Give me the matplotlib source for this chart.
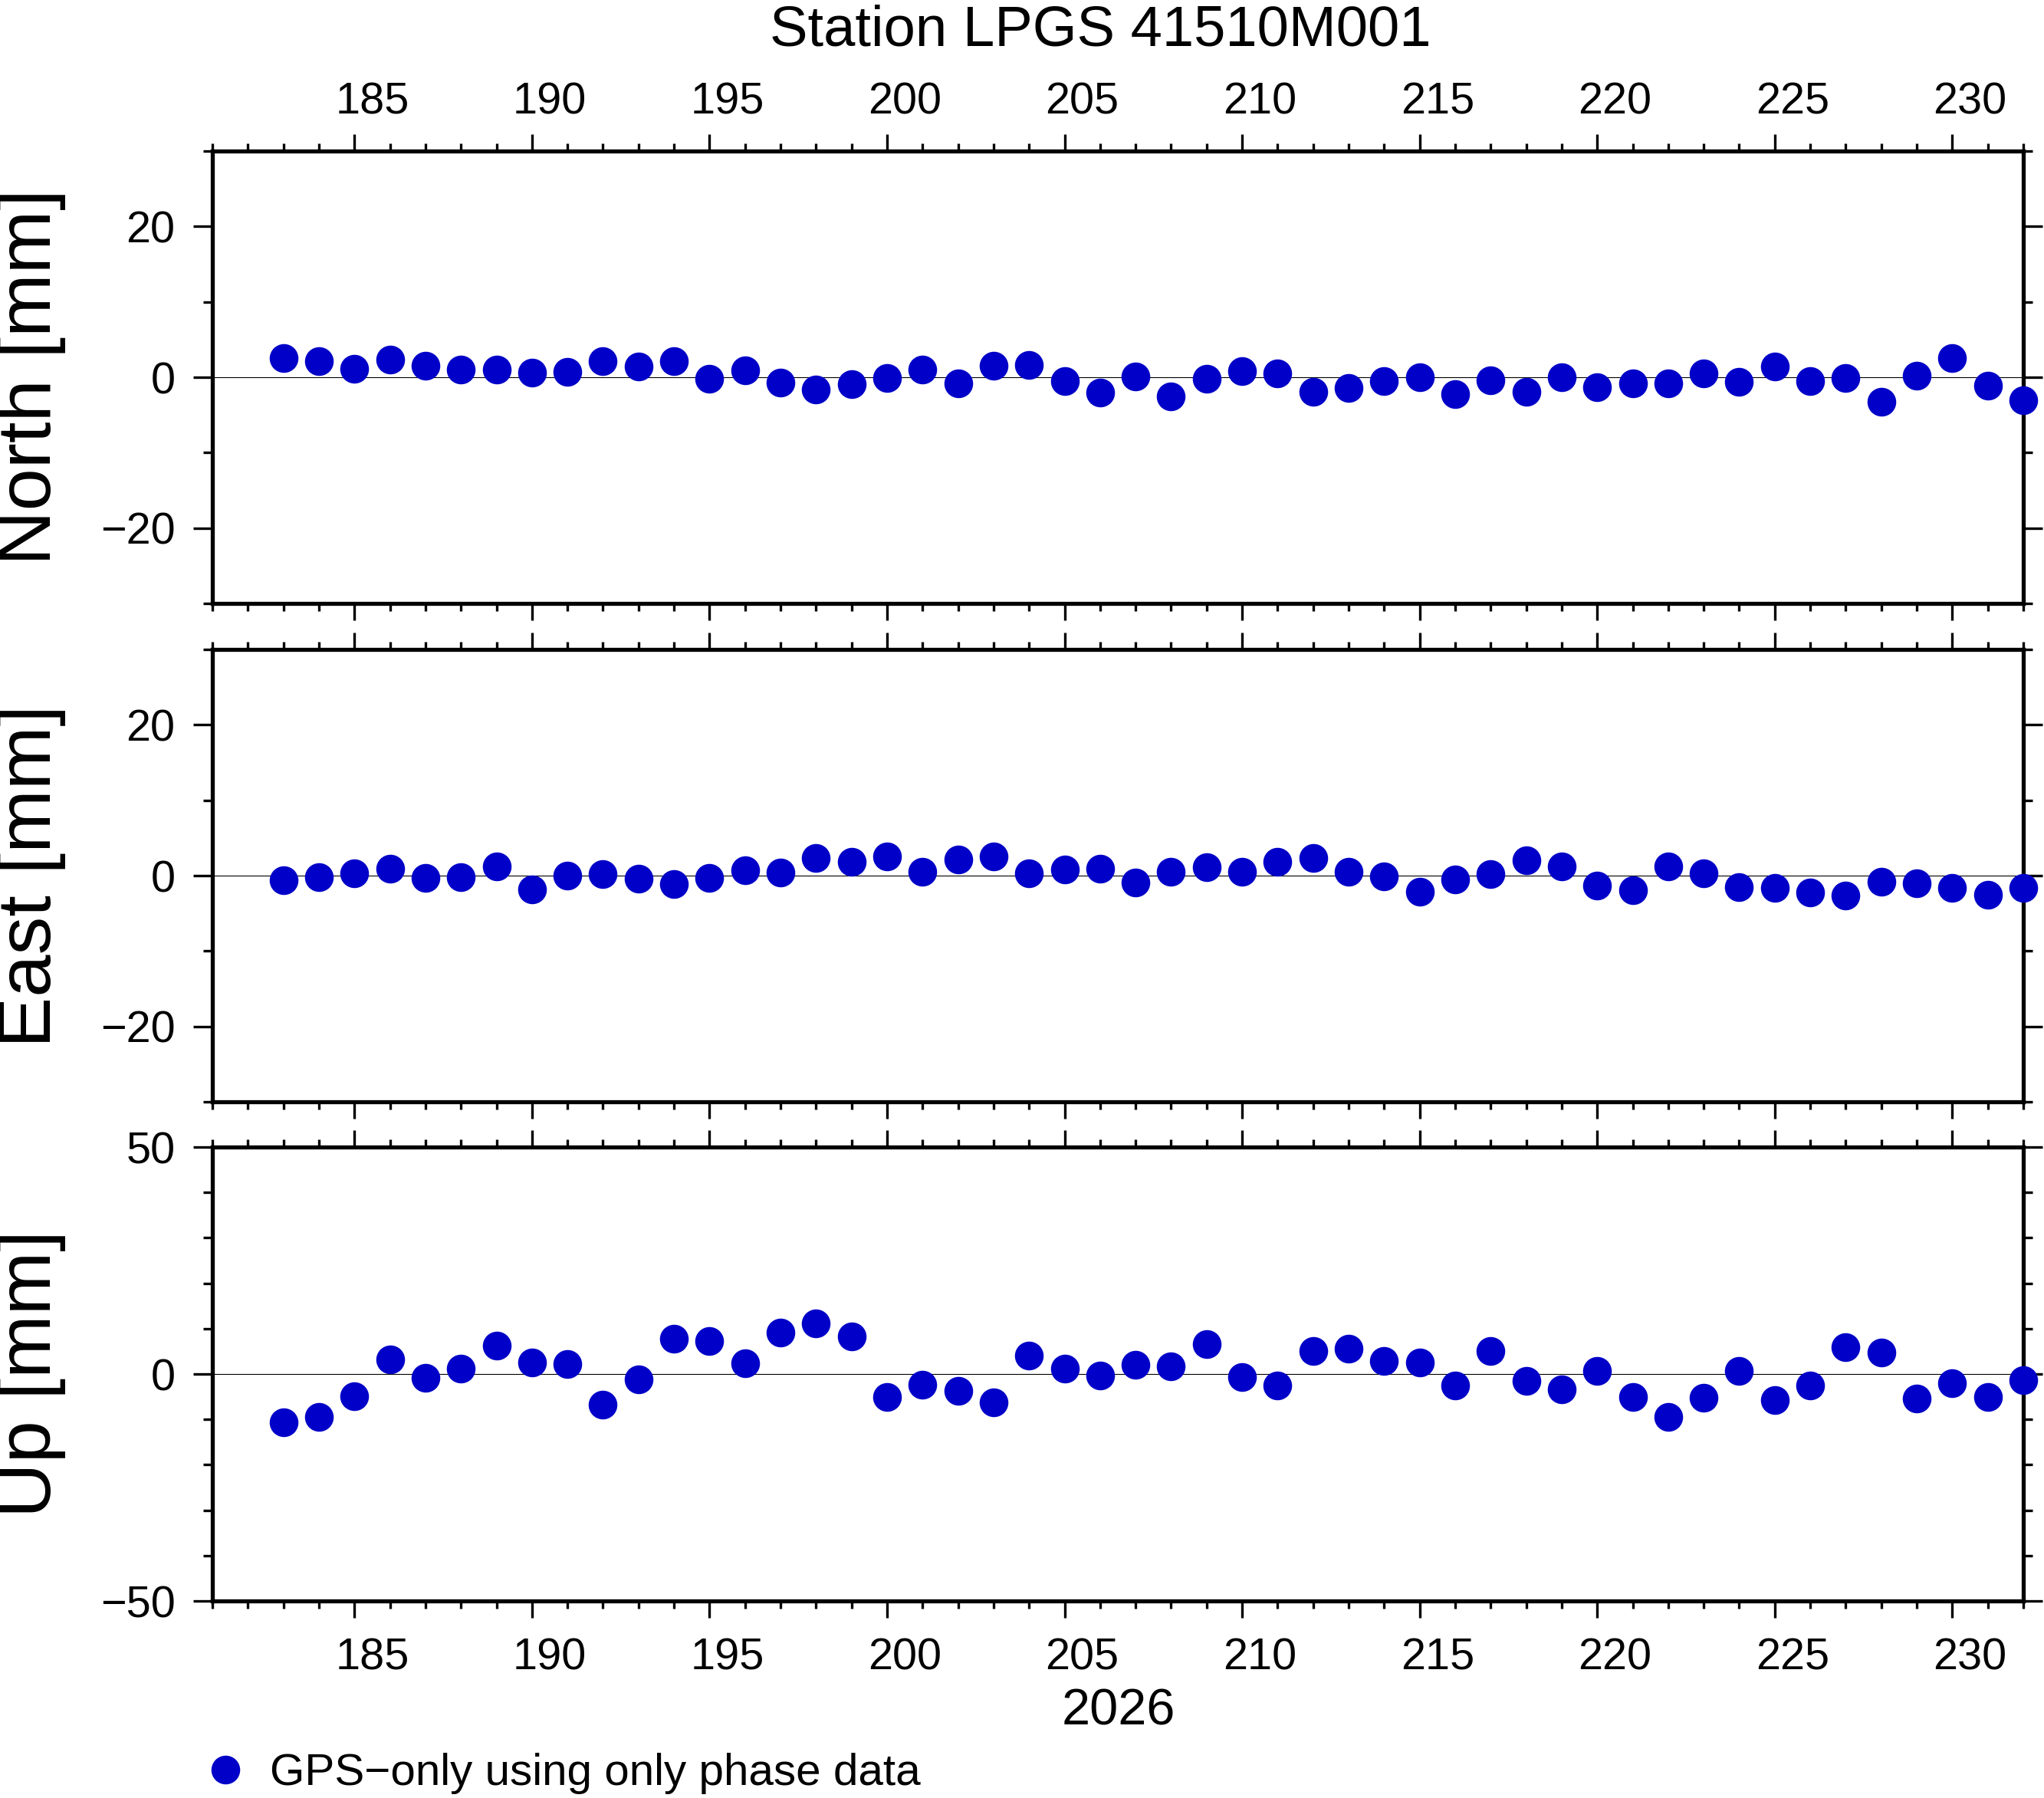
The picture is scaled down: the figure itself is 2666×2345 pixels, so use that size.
import matplotlib
matplotlib.use("Agg")
import matplotlib.pyplot as plt
from matplotlib.lines import Line2D
from matplotlib.ticker import FixedLocator, NullFormatter

plt.rcParams['font.family'] = ['Liberation Sans', 'DejaVu Sans']

# ---------------- data ----------------
days = [183, 184, 185, 186, 187, 188, 189, 190, 191, 192, 193, 194, 195, 196, 197,
        198, 199, 200, 201, 202, 203, 204, 205, 206, 207, 208, 209, 210, 211, 212,
        213, 214, 215, 216, 217, 218, 219, 220, 221, 222, 223, 224, 225, 226, 227,
        228, 229, 230, 231, 232]

north = [2.5, 2.1, 1.1, 2.3, 1.5, 1.0, 1.0, 0.6, 0.7, 2.1, 1.4, 2.1, -0.2, 0.9, -0.7,
         -1.6, -0.9, -0.1, 1.0, -0.8, 1.5, 1.6, -0.5, -2.0, 0.1, -2.5, -0.2, 0.8, 0.5, -1.9,
         -1.4, -0.5, 0.0, -2.2, -0.4, -1.9, 0.0, -1.3, -0.8, -0.8, 0.5, -0.6, 1.4, -0.5, -0.1,
         -3.3, 0.2, 2.5, -1.1, -3.1]

east = [-0.6, -0.2, 0.3, 0.9, -0.3, -0.2, 1.2, -1.8, 0.0, 0.2, -0.4, -1.1, -0.3, 0.7, 0.4,
        2.3, 1.8, 2.5, 0.5, 2.1, 2.5, 0.3, 0.8, 0.9, -0.9, 0.5, 1.1, 0.5, 1.8, 2.3,
        0.5, -0.1, -2.1, -0.5, 0.2, 2.0, 1.2, -1.3, -1.9, 1.2, 0.3, -1.5, -1.6, -2.2, -2.6,
        -0.8, -1.0, -1.6, -2.5, -1.6]

up = [-10.6, -9.5, -4.9, 3.2, -0.8, 1.2, 6.2, 2.5, 2.2, -6.8, -1.2, 7.8, 7.3, 2.4, 9.1,
      11.2, 8.3, -5.1, -2.4, -3.7, -6.2, 4.1, 1.2, -0.3, 2.0, 1.7, 6.6, -0.7, -2.5, 5.1,
      5.6, 2.9, 2.5, -2.5, 5.1, -1.5, -3.4, 0.7, -5.1, -9.5, -5.2, 0.7, -5.8, -2.5, 5.9,
      4.7, -5.4, -2.0, -5.1, -1.3]

panel_labels = ["North [mm]", "East [mm]", "Up [mm]"]
series = [north, east, up]
ylims = [(-30, 30), (-30, 30), (-50, 50)]
ymajor = [[-20, 0, 20], [-20, 0, 20], [-50, 0, 50]]
yminor = [[-30, -10, 10, 30], [-30, -10, 10, 30], [-40, -30, -20, -10, 10, 20, 30, 40]]
xlim = (181, 232)
xmajor = [185, 190, 195, 200, 205, 210, 215, 220, 225, 230]
xlabels = ["185", "190", "195", "200", "205", "210", "215", "220", "225", "230"]
title = "Station LPGS 41510M001"
year_label = "2026"
legend_label = "GPS\u2212only using only phase data"

# ---------------- figure ----------------
W, H = 2666, 2345
fig = plt.figure(figsize=(W / 100, H / 100), dpi=100)

color = '#0000C8'
left, right = 277 / W, 2639 / W
panels_px = [(197, 787), (847, 1437), (1496, 2088)]

tick_fs = 41.5
spine_w = 3.8
for i, (top, bot) in enumerate(panels_px):
    ax = fig.add_axes([left, 1 - bot / H, right - left, (bot - top) / H])
    ax.set_xlim(*xlim)
    ax.set_ylim(*ylims[i])
    ax.axhline(0, color='black', lw=0.8, zorder=1)
    ax.plot(days, series[i], 'o', ms=26, color=color, mec=color, clip_on=False, zorder=5)

    for s in ax.spines.values():
        s.set_linewidth(spine_w)
        s.set_zorder(3)

    ax.xaxis.set_major_locator(FixedLocator(xmajor))
    ax.xaxis.set_minor_locator(FixedLocator(list(range(181, 233))))
    ax.xaxis.set_major_formatter(NullFormatter())
    ax.set_yticks(ymajor[i])
    ax.set_yticks(yminor[i], minor=True)
    ax.tick_params(axis='x', which='both', direction='out', top=True, bottom=True,
                   width=2.4, labelbottom=False, labeltop=False)
    ax.tick_params(axis='x', which='major', length=16)
    ax.tick_params(axis='x', which='minor', length=7.5)
    ax.tick_params(axis='y', which='both', direction='out', left=True, right=True,
                   width=2.4, labelsize=tick_fs, pad=17)
    ax.tick_params(axis='y', which='major', length=18)
    ax.tick_params(axis='y', which='minor', length=8.6)

    # day labels centred on the day interval
    if i == 0 or i == 2:
        sec = ax.secondary_xaxis('top' if i == 0 else 'bottom')
        sec.set_xticks([d + 0.5 for d in xmajor], xlabels)
        sec.tick_params(length=0, labelsize=tick_fs, pad=26 if i == 0 else 34)
        for s in sec.spines.values():
            s.set_visible(False)

    cy = 1 - (top + bot) / 2 / H
    fig.text(41 / W, cy, panel_labels[i], rotation=90, ha='center', va='center',
             fontsize=71.5)

fig.text(1435 / W, 1 - 60 / H, title, ha='center', va='baseline', fontsize=53.5)
fig.text(1459 / W, 1 - 2250 / H, year_label, ha='center', va='baseline', fontsize=48)

handle = Line2D([], [], marker='o', ls='none', color=color, mec=color, ms=26)
fig.legend([handle], [legend_label], loc='center left',
           bbox_to_anchor=(265 / W, 1 - 2313 / H), frameon=False, fontsize=42,
           borderpad=0, borderaxespad=0, handlelength=1.0, handletextpad=0.5)

fig.savefig("out.png", dpi=100)
